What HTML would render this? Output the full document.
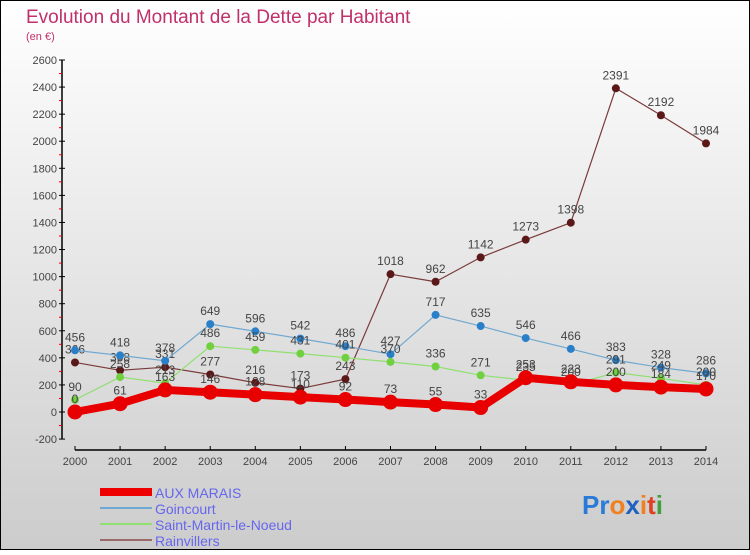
<!DOCTYPE html>
<html><head><meta charset="utf-8"><style>
body{margin:0;}
#c{width:750px;height:550px;position:relative;font-family:"Liberation Sans",sans-serif;}
</style></head><body>
<div id="c">
<svg width="750" height="550" xmlns="http://www.w3.org/2000/svg" id="svg">
<defs><linearGradient id="bg" x1="0" y1="0" x2="0" y2="1"><stop offset="0" stop-color="#ffffff"/><stop offset="1" stop-color="#cccccc"/></linearGradient></defs>
<rect x="0.5" y="0.5" width="749" height="549" fill="url(#bg)" stroke="#000"/>
<text x="26" y="23" font-size="19" fill="#c0306a">Evolution du Montant de la Dette par Habitant</text>
<text x="26" y="40" font-size="11" fill="#c0306a">(en €)</text>
<g id="axes"></g><g id="series"></g>
<g>
<rect x="100" y="488" width="52" height="8" fill="#e00"/>
<text x="155" y="498" font-size="14" fill="#6666ee">AUX MARAIS</text>
<line x1="100" y1="508" x2="152" y2="508" stroke="#6fa8d0" stroke-width="2"/>
<text x="155" y="514" font-size="14" fill="#6666ee">Goincourt</text>
<line x1="100" y1="524" x2="152" y2="524" stroke="#90e070" stroke-width="2"/>
<text x="155" y="530" font-size="14" fill="#6666ee">Saint-Martin-le-Noeud</text>
<line x1="100" y1="540" x2="152" y2="540" stroke="#9a6a6a" stroke-width="2"/>
<text x="155" y="546" font-size="14" fill="#6666ee">Rainvillers</text>
</g>
<text x="582" y="514" font-size="26" font-weight="bold"><tspan fill="#2a7ad8">Pr</tspan><tspan fill="#f08020">o</tspan><tspan fill="#2060c0">x</tspan><tspan fill="#f08020">i</tspan><tspan fill="#e04020">t</tspan><tspan fill="#40a040">i</tspan></text>
</svg>
</div>
<script>
const years=[2000,2001,2002,2003,2004,2005,2006,2007,2008,2009,2010,2011,2012,2013,2014];
const yTicks=[-200,0,200,400,600,800,1000,1200,1400,1600,1800,2000,2200,2400,2600];
const auxMarais=[0,61,163,146,128,110,92,73,55,33,253,223,200,184,170];
const goincourt=[456,418,378,649,596,542,486,427,717,635,546,466,383,328,286];
const saintMartin=[90,258,213,486,459,431,401,370,336,271,235,200,291,249,200];
const rainvillers=[366,308,331,277,216,173,243,1018,962,1142,1273,1398,2391,2192,1984];
const NS="http://www.w3.org/2000/svg";
function X(i){return 75+i*(706-75)/14;}
function Y(v){return 412-v*(412-60)/2600;}
function mk(t,a,p){const e=document.createElementNS(NS,t);for(const k in a)e.setAttribute(k,a[k]);p.appendChild(e);return e;}
const ax=document.getElementById('axes');
const yl=mk('line',{x1:62,y1:Y(2600),x2:62,y2:Y(-200),stroke:'#000','stroke-width':1.5},ax);


yTicks.forEach((v,k)=>{
 mk('line',{x1:59,y1:Y(v),x2:65,y2:Y(v),stroke:'#000'},ax);
 if(k<yTicks.length-1) mk('line',{x1:59,y1:Y(v+100),x2:62,y2:Y(v+100),stroke:'#e00'},ax);
 const t=mk('text',{x:57,y:Y(v)+4,'font-size':11,fill:'#444','text-anchor':'end'},ax);t.textContent=v;
 
 
});
const xl=mk('line',{x1:X(0),y1:450,x2:X(14),y2:450,stroke:'#000','stroke-width':1.5},ax);


years.forEach((y,i)=>{
 mk('line',{x1:X(i),y1:446,x2:X(i),y2:450,stroke:'#000'},ax);
 const t=mk('text',{x:X(i),y:465,'font-size':11,fill:'#444','text-anchor':'middle'},ax);t.textContent=y;
 
 
});
const sg=document.getElementById('series');
function draw(vals,color,dot,w,r,name){
 const g=mk('g',{},sg);
 
 
 mk('polyline',{points:vals.map((v,i)=>X(i)+','+Y(v)).join(' '),fill:'none',stroke:color,'stroke-width':w,'stroke-linejoin':'round'},g);
 vals.forEach((v,i)=>{
  const c=mk('circle',{cx:X(i),cy:Y(v),r:r,fill:dot},g);
  
  
  const t=mk('text',{x:X(i),y:Y(v)-9,'font-size':12,fill:'#444','text-anchor':'middle'},g);t.textContent=v;
  
  
 });
}
draw(rainvillers,'#7a3a3a','#5a1818',1.2,4,'rainvillers-series');
draw(goincourt,'#6fa8d0','#2a80c8',1.2,4,'goincourt-series');
draw(saintMartin,'#90e070','#70d040',1.2,4,'saint-martin-series');
draw(auxMarais,'#e80000','#e80000',8,7.5,'aux-marais-series');
</script>
</body></html>
